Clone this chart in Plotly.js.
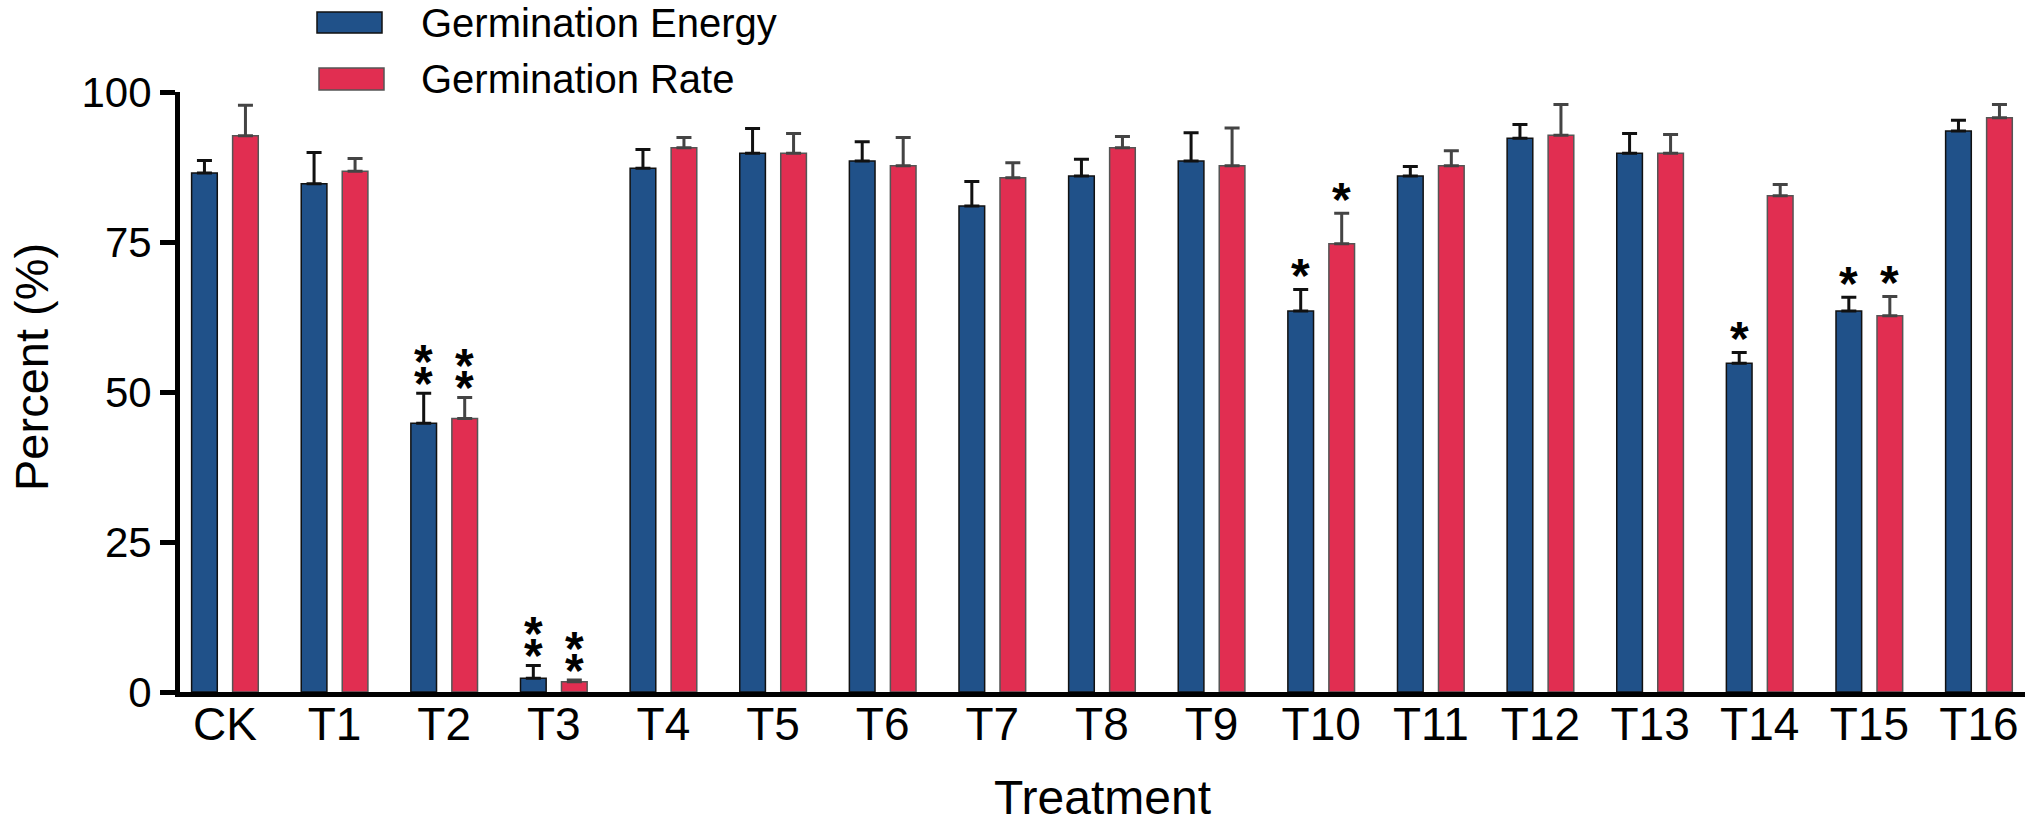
<!DOCTYPE html>
<html>
<head>
<meta charset="utf-8">
<script src="https://cdn.plot.ly/plotly-3.0.1.min.js"></script>
<style>
  html, body { margin: 0; padding: 0; background: #fff; }
  #chart { width: 2034px; height: 827px; }
</style>
</head>
<body>
<div id="chart"></div>
<script>
// data
const categories = ['CK', 'T1', 'T2', 'T3', 'T4', 'T5', 'T6', 'T7', 'T8', 'T9', 'T10', 'T11', 'T12', 'T13', 'T14', 'T15', 'T16'];
const energy    = [86.5, 84.7, 44.8, 2.3, 87.3, 89.8, 88.5, 81.0, 86.0, 88.5, 63.5, 86.0, 92.3, 89.8, 54.8, 63.5, 93.5];
const energyErr = [2.1, 5.2, 5.0, 2.1, 3.1, 4.1, 3.2, 4.1, 2.8, 4.7, 3.6, 1.6, 2.3, 3.3, 1.8, 2.3, 1.8];
const rate      = [92.7, 86.8, 45.6, 1.7, 90.7, 89.8, 87.7, 85.7, 90.7, 87.7, 74.7, 87.7, 92.8, 89.8, 82.7, 62.7, 95.7];
const rateErr   = [5.1, 2.1, 3.5, 0.3, 1.7, 3.3, 4.7, 2.5, 1.9, 6.3, 5.1, 2.5, 5.1, 3.1, 1.9, 3.2, 2.2];
const energySig = ['', '', '**', '**', '', '', '', '', '', '', '*', '', '', '', '*', '*', ''];
const rateSig   = ['', '', '**', '**', '', '', '', '', '', '', '*', '', '', '', '', '*', ''];
const yTicks = [0, 25, 50, 75, 100];

const seriesNames = ['Germination Energy', 'Germination Rate'];
const BLUE = '#205189', RED = '#E12E51';
const FONT = 'Liberation Sans, Arial, Helvetica, sans-serif';

// layout geometry
const W = 2034, H = 827;
const M = { l: 180, r: 9, t: 92, b: 135 };
const PW = W - M.l - M.r, PH = H - M.t - M.b;
const xRange = [-0.41, 16.42];
const bargap = 0.252, bargroupgap = 0.374;
const pxPerCat = PW / (xRange[1] - xRange[0]);
const barShift = (1 - bargap) / 4 * pxPerCat;   // centre of each bar from category centre

const px2x = px => (px - M.l) / PW;
const px2y = py => (H - M.b - py) / PH;

const zeros = categories.map(() => 0);

const traces = [
  {
    type: 'bar', name: seriesNames[0], x: categories, y: energy,
    marker: { color: BLUE, line: { color: '#111', width: 1.5 } },
    error_y: { type: 'data', symmetric: false, array: energyErr, arrayminus: zeros,
               color: '#111', thickness: 3, width: 7.5 }
  },
  {
    type: 'bar', name: seriesNames[1], x: categories, y: rate,
    marker: { color: RED, line: { color: '#555', width: 1.5 } },
    error_y: { type: 'data', symmetric: false, array: rateErr, arrayminus: zeros,
               color: '#444', thickness: 3, width: 7.5 }
  }
];

// significance stars, stacked one above the other
let annotations = [];
function addStars(sig, vals, errs, shift) {
  sig.forEach((s, i) => {
    for (let k = 0; k < s.length; k++) {
      const lift = s.length === 1 ? 24 : 20 + 22 * k;
      annotations.push({
        x: categories[i], y: vals[i] + errs[i], xref: 'x', yref: 'y',
        text: '*', showarrow: false, xshift: shift, yshift: lift - 10,
        xanchor: 'center', yanchor: 'middle',
        font: { family: FONT, size: 48, color: '#000', weight: 'bold' }
      });
    }
  });
}
addStars(energySig, energy, energyErr, -barShift);
addStars(rateSig, rate, rateErr, barShift);

// legend drawn by hand so the swatches keep their wide shape
const legendRows = [
  { name: seriesNames[0], color: BLUE, edge: '#111', x0: 317, x1: 382, y0: 12, y1: 33 },
  { name: seriesNames[1], color: RED,  edge: '#555', x0: 319, x1: 384, y0: 68, y1: 90 }
];
let shapes = [];
legendRows.forEach(r => {
  shapes.push({
    type: 'rect', xref: 'paper', yref: 'paper',
    x0: px2x(r.x0), x1: px2x(r.x1), y0: px2y(r.y1), y1: px2y(r.y0),
    fillcolor: r.color, line: { color: r.edge, width: 1.5 }
  });
  annotations.push({
    xref: 'paper', yref: 'paper', x: px2x(419), y: px2y((r.y0 + r.y1) / 2),
    xanchor: 'left', yanchor: 'middle', showarrow: false, text: r.name,
    font: { family: FONT, size: 40, color: '#000' }
  });
});

// axis titles
annotations.push({
  xref: 'paper', yref: 'paper', x: px2x(31), y: px2y(367),
  xanchor: 'center', yanchor: 'middle', showarrow: false, textangle: -90,
  text: 'Percent (%)', font: { family: FONT, size: 47, color: '#000' }
});
annotations.push({
  xref: 'paper', yref: 'paper', x: 0.5, y: px2y(826),
  xanchor: 'center', yanchor: 'bottom', showarrow: false,
  text: 'Treatment', font: { family: FONT, size: 48, color: '#000' }
});

const layout = {
  width: W, height: H,
  margin: M,
  paper_bgcolor: '#fff', plot_bgcolor: '#fff',
  font: { family: FONT, color: '#000' },
  barmode: 'group', bargap: bargap, bargroupgap: bargroupgap,
  showlegend: false,
  xaxis: {
    type: 'category', range: xRange, fixedrange: true,
    showline: true, linecolor: '#000', linewidth: 5,
    ticks: '', showgrid: false, zeroline: false, ticklabelstandoff: -12,
    tickfont: { family: FONT, size: 46, color: '#000' }
  },
  yaxis: {
    range: [0, 100], fixedrange: true,
    tickvals: yTicks, ticktext: yTicks.map(String),
    showline: true, linecolor: '#000', linewidth: 5,
    ticks: 'outside', ticklen: 15, tickwidth: 5, tickcolor: '#000',
    showgrid: false, zeroline: false,
    tickfont: { family: FONT, size: 42, color: '#000' }
  },
  shapes: shapes,
  annotations: annotations
};

Plotly.newPlot('chart', traces, layout, { staticPlot: true, displayModeBar: false });
</script>
</body>
</html>
